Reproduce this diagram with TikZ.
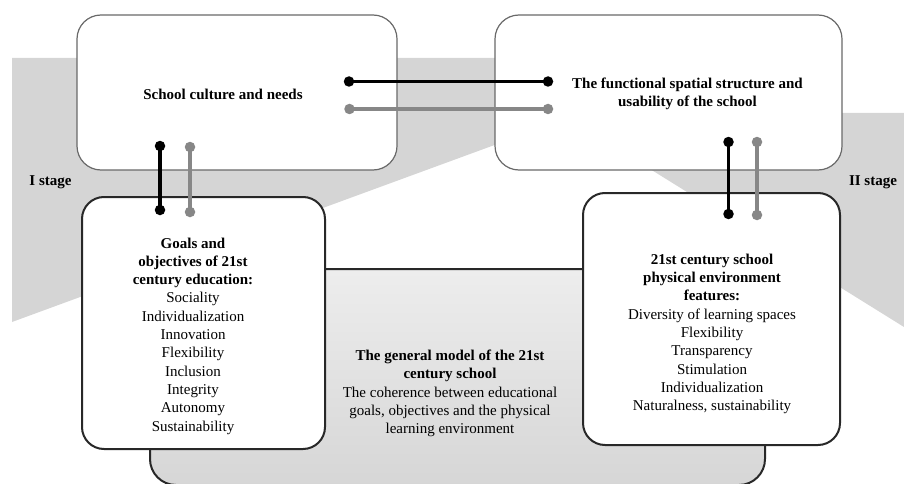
\documentclass[tikz,border=0pt]{standalone}
\usepackage{fontspec}
\setmainfont{Liberation Serif}
\usepackage{tikz}
\usetikzlibrary{positioning}
\usepackage{xcolor}

\definecolor{bandgray}{RGB}{213,213,213}
\definecolor{linegray}{RGB}{135,135,135}
\definecolor{edgegray}{RGB}{105,105,105}
\definecolor{edgedark}{RGB}{40,40,40}

\begin{document}
\begin{tikzpicture}[x=1pt,y=-1pt,
    every node/.style={font=\fontsize{15}{18.3}\selectfont},
    topbox/.style={rectangle,draw=edgegray,line width=1.2pt,rounded corners=24pt,fill=white},
    lowbox/.style={rectangle,draw=edgedark,line width=2pt,rounded corners=22pt,fill=white},
    modelbox/.style={rectangle,draw=edgedark,line width=2pt,rounded corners=26pt,
      top color=gray!14,middle color=gray!6,bottom color=gray!32},
    txt/.style={align=center,inner sep=0pt},
    stage/.style={font=\fontsize{15}{18.3}\selectfont\bfseries,inner sep=0pt},
    dotb/.style={circle,fill=black,minimum size=10.5pt,inner sep=0pt},
    dotg/.style={circle,fill=linegray,minimum size=10.5pt,inner sep=0pt},
    linkb/.style={draw=black,line width=3.2pt},
    linkg/.style={draw=linegray,line width=3.2pt}
    ]
    \useasboundingbox (0,0) rectangle (904,484);
    \fill [bandgray] (12,58) -- (500,58) -- (500,143) -- (12,322) -- cycle;
    \fill [bandgray] (560,113) -- (904,113) -- (904,327) -- cycle;
    \node [stage] (stage1) at (50.5,182) {I stage};
    \node [stage] (stage2) at (873,182) {II stage};
    \node [modelbox,minimum width=615pt,minimum height=216pt] (model) at (457.5,377) {};
    \node [topbox,minimum width=320pt,minimum height=155pt] (culture) at (237,92.5) {};
    \node [topbox,minimum width=347pt,minimum height=155pt] (structure) at (668.5,92.5) {};
    \node [lowbox,minimum width=243pt,minimum height=252pt] (goals) at (203.5,323) {};
    \node [lowbox,minimum width=257pt,minimum height=252pt] (features) at (711.5,319) {};
    \node [txt] (culturetxt) at ([xshift=-14pt,yshift=-1.5pt]culture.center) {\textbf{School culture and needs}};
    \node [txt] (structuretxt) at ([xshift=19pt,yshift=-1.5pt]structure.center)
      {\textbf{The functional spatial structure and}\\\textbf{usability of the school}};
    \node [txt] (goalstxt) at ([xshift=-10.5pt,yshift=-13pt]goals.center)
      {\textbf{Goals and}\\\textbf{objectives of 21st}\\\textbf{century education:}\\Sociality\\Individualization\\
       Innovation\\Flexibility\\Inclusion\\Integrity\\Autonomy\\Sustainability};
    \node [txt] (featurestxt) at ([xshift=0.5pt,yshift=-15pt]features.center)
      {\textbf{21st century school}\\\textbf{physical environment}\\\textbf{features:}\\Diversity of learning spaces\\
       Flexibility\\Transparency\\Stimulation\\Individualization\\Naturalness, sustainability};
    \node [txt] (modeltxt) at ([xshift=-7.5pt,yshift=-16.5pt]model.center)
      {\textbf{The general model of the 21st}\\\textbf{century school}\\The coherence between educational\\
       goals, objectives and the physical\\learning environment};
    \node [dotb] (hb1) at (349,81.5) {};
    \node [dotb] (hb2) at (548,81.5) {};
    \node [dotg] (hg1) at (349.5,109) {};
    \node [dotg] (hg2) at (548,109) {};
    \node [dotb] (lb1) at (160,146) {};
    \node [dotb] (lb2) at (160,210) {};
    \node [dotg] (lg1) at (190,147) {};
    \node [dotg] (lg2) at (190,212) {};
    \node [dotb] (rb1) at (728.5,142) {};
    \node [dotb] (rb2) at (728.5,214) {};
    \node [dotg] (rg1) at (757,142) {};
    \node [dotg] (rg2) at (757,215) {};
    \draw [linkb] (hb1.center) -- (hb2.center);
    \draw [linkg] (hg1.center) -- (hg2.center);
    \draw [linkb] (lb1.center) -- (lb2.center);
    \draw [linkg] (lg1.center) -- (lg2.center);
    \draw [linkb] (rb1.center) -- (rb2.center);
    \draw [linkg] (rg1.center) -- (rg2.center);
\end{tikzpicture}
\end{document}
